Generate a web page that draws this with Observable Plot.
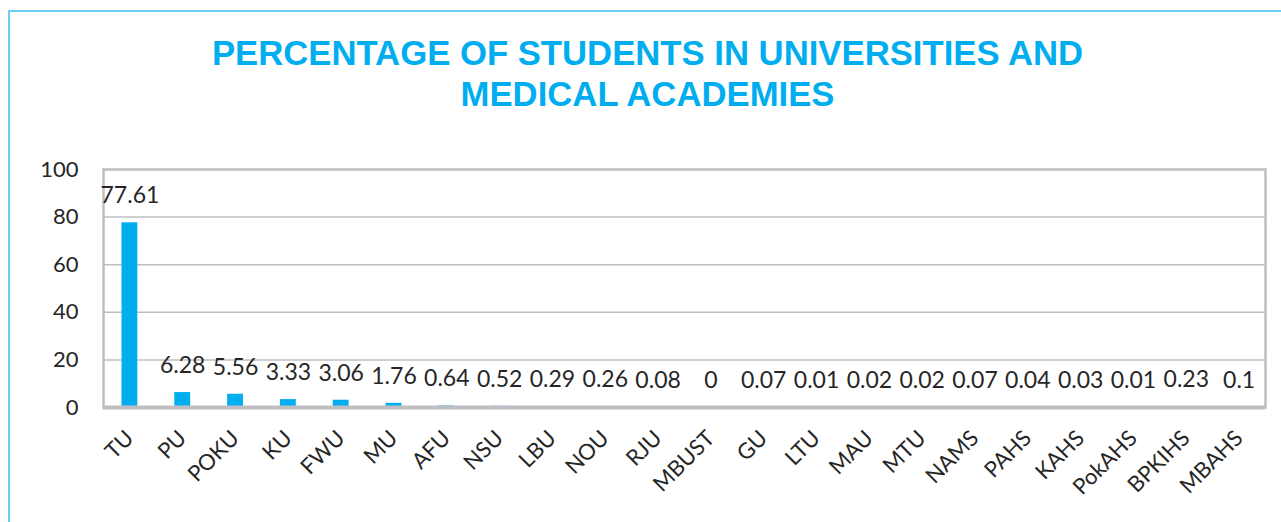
<!DOCTYPE html>
<html><head><meta charset="utf-8">
<script src="https://cdn.jsdelivr.net/npm/d3@7"></script>
<script src="https://cdn.jsdelivr.net/npm/@observablehq/plot@0.6"></script>
<style>
body{margin:0;background:#fff;width:1281px;height:522px;overflow:hidden;position:relative;}
#border{position:absolute;left:8px;top:10px;width:1400px;height:600px;border:2px solid #6ccdf4;}
#title{position:absolute;left:0;width:1295px;top:33px;text-align:center;font:bold 34.7px "Liberation Sans",Arial,sans-serif;line-height:41px;color:#00AEEF;}
#chart{position:absolute;left:0;top:140px;}
</style></head>
<body>
<div id="border"></div>
<div id="title">PERCENTAGE OF STUDENTS IN UNIVERSITIES AND<br>MEDICAL ACADEMIES</div>
<div id="chart"></div>
<script>
const universities = ["TU","PU","POKU","KU","FWU","MU","AFU","NSU","LBU","NOU","RJU","MBUST","GU","LTU","MAU","MTU","NAMS","PAHS","KAHS","PokAHS","BPKIHS","MBAHS"];
const percentages = [77.61,6.28,5.56,3.33,3.06,1.76,0.64,0.52,0.29,0.26,0.08,0,0.07,0.01,0.02,0.02,0.07,0.04,0.03,0.01,0.23,0.1];
const yTicks = [0,20,40,60,80,100];

const data = universities.map((u, i) => ({university: u, percent: percentages[i]}));

const chart = Plot.plot({
  width: 1281, height: 382,
  marginTop: 29, marginBottom: 115, marginLeft: 103, marginRight: 16,
  style: {fontFamily: "Lato, sans-serif", background: "transparent", color: "#262626"},
  x: {domain: universities, paddingInner: 0.7, paddingOuter: 0.35, round: false, label: null},
  y: {domain: [0, 100], ticks: yTicks, label: null},
  marks: [
    Plot.gridY(yTicks, {stroke: "#bfbfc3", strokeOpacity: 1, strokeWidth: 1.5}),
    Plot.frame({stroke: "#bfbfc3", strokeWidth: 2.5}),
    Plot.barY(data, {x: "university", y: "percent", fill: "#00AEEF"}),
    Plot.ruleY([0], {stroke: "#bfbfc3", strokeWidth: 4}),
    Plot.text(data, {x: "university", y: "percent", text: d => String(d.percent), dy: -27, fontSize: 23, fill: "#262626"}),
    Plot.axisY({ticks: yTicks, tickSize: 0, tickPadding: 25, fontSize: 22, label: null}),
    Plot.axisX({tickSize: 0, tickRotate: -45, tickPadding: 24, fontSize: 22, dy: 3, label: null})
  ]
});
document.getElementById("chart").appendChild(chart);
</script>
</body></html>
